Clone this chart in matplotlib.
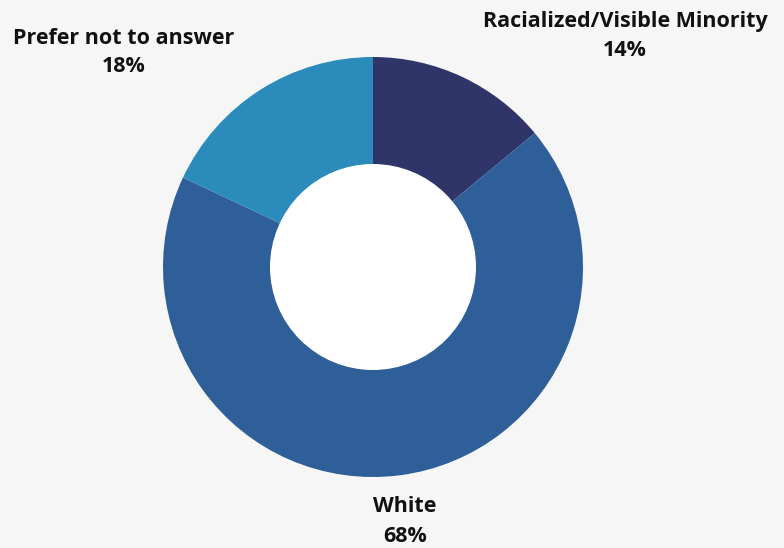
import matplotlib
matplotlib.use("Agg")
import matplotlib.pyplot as plt
from matplotlib.patches import Circle

categories = ["Racialized/Visible Minority", "White", "Prefer not to answer"]
values = [14, 68, 18]
colors = ["#2f3469", "#2e5f99", "#2b8bba"]

W, H = 784, 548
fig = plt.figure(figsize=(W / 100, H / 100), dpi=100)
fig.patch.set_facecolor("#f6f6f6")
ax = fig.add_axes([0, 0, 1, 1])
ax.set_facecolor("#f6f6f6")

cx, cy, R = 373, H - 267, 210
ax.pie(values, colors=colors, startangle=90, counterclock=False,
       center=(cx, cy), radius=R, frame=True,
       wedgeprops=dict(linewidth=0))
ax.add_patch(Circle((cx, cy), 103, facecolor="white", edgecolor="none", zorder=5))
ax.set_xlim(0, W)
ax.set_ylim(0, H)
ax.set_aspect("equal")
ax.axis("off")

font = dict(family=["Open Sans", "DejaVu Sans"], fontweight="bold", fontsize=15.5,
            color="#111111", ha="center", va="center")
label_pos = {
    "Racialized/Visible Minority": (625, 22),
    "White": (405, 507),
    "Prefer not to answer": (124, 38),
}
for cat, v in zip(categories, values):
    x, y = label_pos[cat]
    ax.text(x, H - y, cat, **font)
    ax.text(x, H - y - 29, f"{v}%", **font)

fig.savefig("out.png", dpi=100, facecolor=fig.get_facecolor())
